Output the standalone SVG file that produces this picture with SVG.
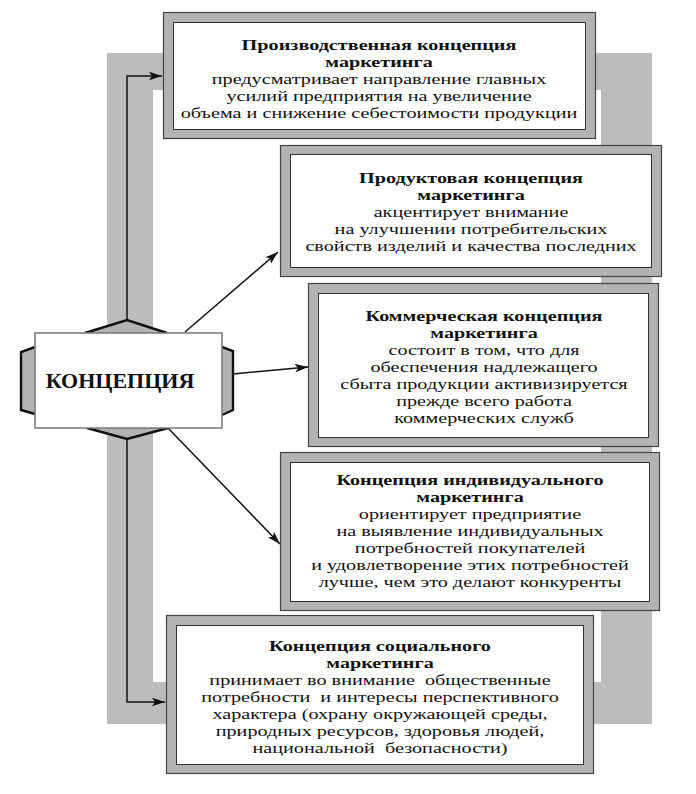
<svg xmlns="http://www.w3.org/2000/svg" width="696" height="794" viewBox="0 0 696 794">
<defs>
<marker id="arr" markerUnits="userSpaceOnUse" markerWidth="14" markerHeight="10" refX="13" refY="5" orient="auto">
<path d="M0,0.8 L13,5 L0,9.2 L3,5 Z" fill="#111"/>
</marker>
</defs>
<style>
.ring{fill:#bcbcbc;fill-rule:evenodd}
.bo{fill:#b3b3b3;stroke:#444;stroke-width:1.2}
.bi{fill:#fff;stroke:#333;stroke-width:1}
.t{font-family:"Liberation Serif","Times New Roman",serif;font-size:15.3px;fill:#111;text-anchor:middle}
.b{font-weight:bold}
.cap{fill:#b3b3b3}
.edge{fill:none;stroke:#111;stroke-width:2.4;stroke-linejoin:miter}
.con{fill:none;stroke:#111;stroke-width:1.5}
</style>
<rect width="696" height="794" fill="#fff"/>
<path class="ring" d="M107,53 H652 V724 H107 Z M153,90 V682 H601 V90 Z"/>

<g id="connectors">
<path class="con" d="M127,321 V76 H162" marker-end="url(#arr)"/>
<path class="con" d="M127,438 V702 H165" marker-end="url(#arr)"/>
<line class="con" x1="185" y1="332" x2="278" y2="252" marker-end="url(#arr)"/>
<line class="con" x1="233" y1="374" x2="308" y2="367" marker-end="url(#arr)"/>
<line class="con" x1="168" y1="428" x2="280" y2="544" marker-end="url(#arr)"/>
</g>

<g id="concept">
<polygon class="cap" points="85,333 127,320 167,333"/>
<polyline class="edge" points="85,333 127,320 167,333"/>
<polygon class="cap" points="87,428 127,439 168,428"/>
<polyline class="edge" points="87,428 127,439 168,428"/>
<polygon class="cap" points="35,347 21,352 21,410 35,414"/>
<polyline class="edge" points="35,347 21,352 21,410 35,414"/>
<polygon class="cap" points="222,347 233,351 233,410 222,415"/>
<polyline class="edge" points="222,347 233,351 233,410 222,415"/>
<rect x="35" y="333" width="187" height="95" fill="#fff" stroke="#777" stroke-width="1.5"/>
<g transform="translate(120,0) scale(1.1,1)"><text class="t b" x="0" y="388" style="font-size:20px">КОНЦЕПЦИЯ</text></g>
</g>

<g id="box1">
<rect class="bo" x="163.5" y="12.5" width="432" height="126"/>
<rect class="bi" x="173.5" y="22.5" width="412" height="107"/>
<g transform="translate(379,0) scale(1.32,1)">
<text class="t b" x="0" y="50">Производственная концепция</text>
<text class="t b" x="0" y="67">маркетинга</text>
<text class="t" x="0" y="84">предусматривает направление главных</text>
<text class="t" x="0" y="101">усилий предприятия на увеличение</text>
<text class="t" x="0" y="118">объема и снижение себестоимости продукции</text>
</g>
</g>

<g id="box2">
<rect class="bo" x="280.5" y="145.5" width="381" height="131"/>
<rect class="bi" x="290.5" y="154.5" width="361" height="113"/>
<g transform="translate(471,0) scale(1.32,1)">
<text class="t b" x="0" y="183">Продуктовая концепция</text>
<text class="t b" x="0" y="200">маркетинга</text>
<text class="t" x="0" y="217">акцентирует внимание</text>
<text class="t" x="0" y="234">на улучшении потребительских</text>
<text class="t" x="0" y="251">свойств изделий и качества последних</text>
</g>
</g>

<g id="box3">
<rect class="bo" x="308.5" y="283.5" width="350" height="163"/>
<rect class="bi" x="318.5" y="293.5" width="330" height="144"/>
<g transform="translate(484,0) scale(1.32,1)">
<text class="t b" x="0" y="321">Коммерческая концепция</text>
<text class="t b" x="0" y="338">маркетинга</text>
<text class="t" x="0" y="355">состоит в том, что для</text>
<text class="t" x="0" y="372">обеспечения надлежащего</text>
<text class="t" x="0" y="389">сбыта продукции активизируется</text>
<text class="t" x="0" y="406">прежде всего работа</text>
<text class="t" x="0" y="423">коммерческих служб</text>
</g>
</g>

<g id="box4">
<rect class="bo" x="280.5" y="452.5" width="379" height="158"/>
<rect class="bi" x="290.5" y="462.5" width="359" height="139"/>
<g transform="translate(470,0) scale(1.32,1)">
<text class="t b" x="0" y="485">Концепция индивидуального</text>
<text class="t b" x="0" y="502">маркетинга</text>
<text class="t" x="0" y="519">ориентирует предприятие</text>
<text class="t" x="0" y="536">на выявление индивидуальных</text>
<text class="t" x="0" y="553">потребностей покупателей</text>
<text class="t" x="0" y="570">и удовлетворение этих потребностей</text>
<text class="t" x="0" y="587">лучше, чем это делают конкуренты</text>
</g>
</g>

<g id="box5">
<rect class="bo" x="166.5" y="615.5" width="427" height="158"/>
<rect class="bi" x="176.5" y="625.5" width="407" height="139"/>
<g transform="translate(380,0) scale(1.32,1)">
<text class="t b" x="0" y="651">Концепция социального</text>
<text class="t b" x="0" y="668">маркетинга</text>
<text class="t" x="0" y="685" xml:space="preserve">принимает во внимание  общественные</text>
<text class="t" x="0" y="702" xml:space="preserve">потребности  и интересы перспективного</text>
<text class="t" x="0" y="719">характера (охрану окружающей среды,</text>
<text class="t" x="0" y="736">природных ресурсов, здоровья людей,</text>
<text class="t" x="0" y="753" xml:space="preserve">национальной  безопасности)</text>
</g>
</g>
</svg>
